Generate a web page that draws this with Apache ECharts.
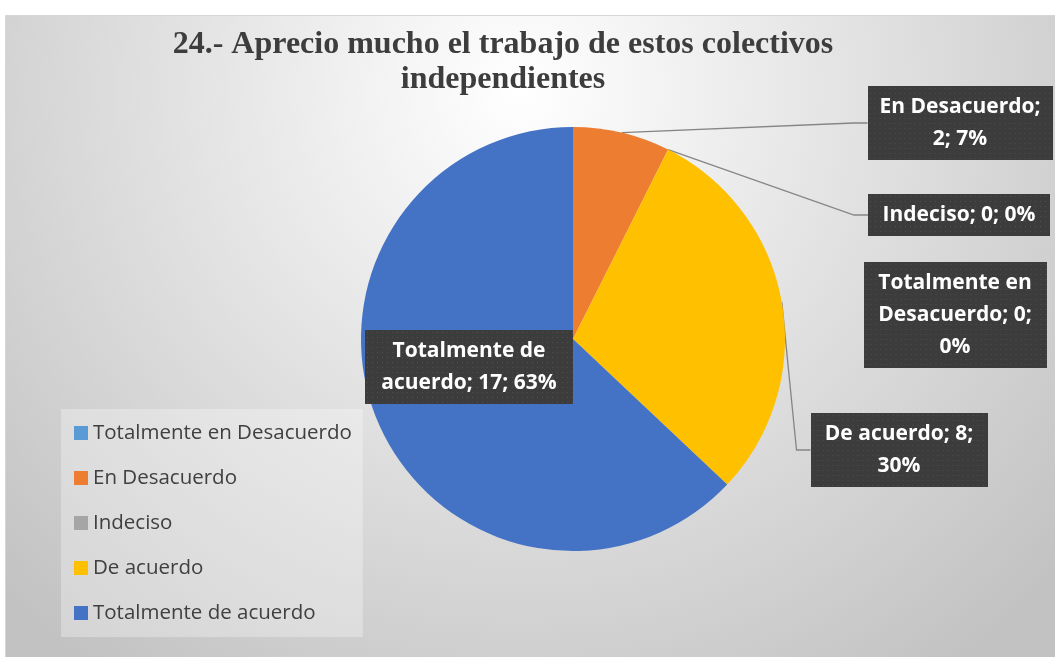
<!DOCTYPE html>
<html>
<head>
<meta charset="utf-8">
<script src="https://cdn.jsdelivr.net/npm/echarts@6/dist/echarts.min.js"></script>
<style>
  html, body { margin: 0; background: #fff; }
  #chart { width: 1055px; height: 657px; }
</style>
</head>
<body>
<div id="chart"></div>
<script>
const categories = ['Totalmente en Desacuerdo', 'En Desacuerdo', 'Indeciso', 'De acuerdo', 'Totalmente de acuerdo'];
const counts = [0, 2, 0, 8, 17];
const colors = ['#5B9BD5', '#ED7D31', '#A5A5A5', '#FFC000', '#4472C4'];
// how many words go on each line of a data label
const labelWords = [[2, 2, 1], [2, 2], [3], [3, 1], [2, 3]];

// label box centres and text widths (px)
const labelBoxes = [
  { x: 955, y: 315, w: 169 },
  { x: 960, y: 123, w: 171 },
  { x: 959, y: 215, w: 168 },
  { x: 899, y: 450, w: 163 },
  { x: 469, y: 367, w: 194 }
];

const PAD_X = 7, PAD_Y = 5, LINE_H = 32;

// dark dotted fill like the Office label style
function makePattern(w, h) {
  const c = document.createElement('canvas');
  c.width = w; c.height = h;
  const ctx = c.getContext('2d');
  ctx.fillStyle = '#3c3c3c';
  ctx.fillRect(0, 0, w, h);
  ctx.fillStyle = '#4f4f4f';
  for (let y = 2; y < h; y += 5) {
    for (let x = 2; x < w; x += 5) ctx.fillRect(x, y, 1, 1);
  }
  return c;
}

const chart = echarts.init(document.getElementById('chart'));

const option = {
  animation: false,
  graphic: [
    {
      type: 'rect',
      z: -10,
      shape: { x: 5.5, y: 15.5, width: 1050, height: 642 },
      style: {
        fill: {
          type: 'radial', x: 520, y: 90, r: 720, global: true,
          colorStops: [
            { offset: 0, color: '#ffffff' },
            { offset: 1, color: '#c2c2c2' }
          ]
        },
        stroke: '#d6d6d6',
        lineWidth: 1
      }
    },
    {
      type: 'text',
      z: -5,
      x: 503,
      y: 27,
      style: {
        text: '24.- Aprecio mucho el trabajo de estos colectivos\nindependientes',
        font: 'bold 32px "Liberation Serif", "Times New Roman", serif',
        lineHeight: 35,
        fill: '#3d3d3d',
        align: 'center',
        verticalAlign: 'top'
      }
    }
  ],
  legend: {
    orient: 'vertical',
    left: 61,
    top: 409,
    padding: [13, 11, 13, 13],
    backgroundColor: 'rgba(255,255,255,0.3)',
    itemWidth: 14,
    itemHeight: 14,
    itemGap: 23,
    icon: 'rect',
    selectedMode: false,
    data: categories,
    textStyle: {
      fontFamily: '"Open Sans", sans-serif',
      fontSize: 20.5,
      lineHeight: 22,
      color: '#404040',
      padding: [0, 0, 0, 0]
    }
  },
  series: [
    {
      type: 'pie',
      center: [573, 339],
      radius: 212,
      startAngle: 90,
      clockwise: true,
      percentPrecision: 0,
      emphasis: { disabled: true },
      label: {
        show: true,
        fontFamily: '"Open Sans", sans-serif',
        fontWeight: 'bold',
        fontSize: 21,
        lineHeight: LINE_H,
        color: '#ffffff',
        padding: [PAD_Y, PAD_X],
        align: 'center',
        shadowColor: 'rgba(0,0,0,0.45)',
        shadowBlur: 4,
        shadowOffsetX: 2,
        shadowOffsetY: 2,
        formatter: (p) => {
          const words = `${p.name}; ${p.value}; ${p.percent}%`.split(' ');
          const lines = [];
          let k = 0;
          labelWords[p.dataIndex].forEach(n => {
            lines.push(words.slice(k, k + n).join(' '));
            k += n;
          });
          return lines.join('\n');
        }
      },
      labelLine: {
        length: 10,
        length2: 14,
        lineStyle: { color: '#858585', width: 1.3 }
      },
      labelLayout: (params) => {
        const b = labelBoxes[params.dataIndex];
        return { x: b.x, y: b.y, align: 'center', verticalAlign: 'middle' };
      },
      data: categories.map((name, i) => {
        const b = labelBoxes[i];
        const h = labelWords[i].length * LINE_H + PAD_Y * 2;
        return {
          name,
          value: counts[i],
          itemStyle: { color: colors[i] },
          label: {
            width: b.w,
            backgroundColor: { image: makePattern(b.w + PAD_X * 2, h) }
          },
          labelLine: { show: i !== 0 && i !== 4 }
        };
      })
    }
  ]
};

chart.setOption(option);
window.addEventListener('resize', () => chart.resize());
</script>
</body>
</html>
